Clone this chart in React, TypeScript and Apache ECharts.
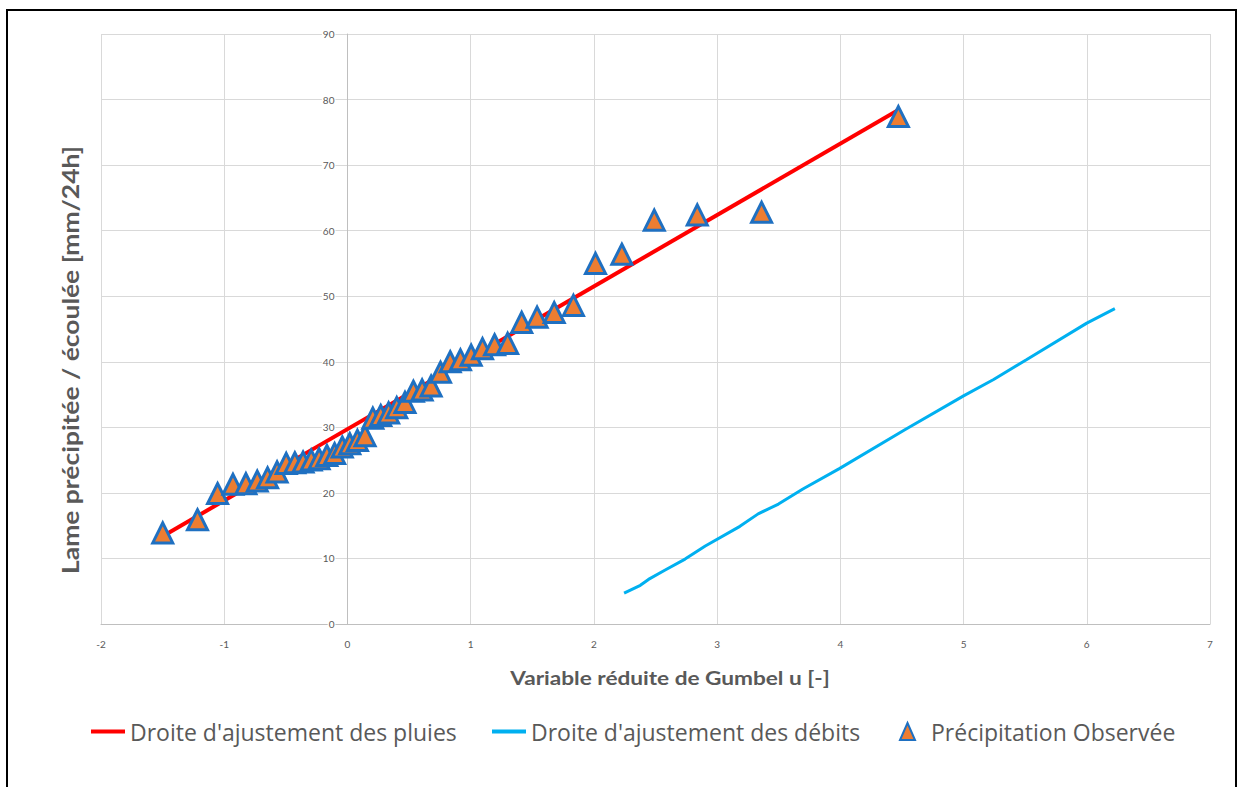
import React, { useEffect, useRef } from "react";
import * as echarts from "echarts";

const seriesNames = [
  "Droite d'ajustement des pluies",
  "Droite d'ajustement des débits",
  "Précipitation Observée",
];
const xAxisTitle = "Variable réduite de Gumbel u [-]";
const yAxisTitle = "Lame précipitée / écoulée [mm/24h]";

const pluieFitU = [-1.499, 4.471];
const pluieFitP = [13.4, 78.4];

const debitFitU = [2.245, 2.377, 2.443, 2.575, 2.74, 2.904, 3.185, 3.333, 3.498, 3.696, 3.992, 4.52, 5.0, 5.244, 5.51, 6.0, 6.228];
const debitFitP = [4.7, 5.9, 6.8, 8.2, 9.9, 11.9, 14.9, 16.8, 18.3, 20.6, 23.7, 29.6, 34.8, 37.3, 40.3, 45.9, 48.1];

const obsU = [
  -1.499, -1.217, -1.054, -0.929, -0.824, -0.732, -0.648, -0.571, -0.497, -0.427,
  -0.36, -0.294, -0.23, -0.167, -0.104, -0.042, 0.019, 0.081, 0.143, 0.206,
  0.27, 0.334, 0.4, 0.467, 0.535, 0.606, 0.679, 0.755, 0.834, 0.917,
  1.004, 1.096, 1.194, 1.3, 1.414, 1.539, 1.678, 1.834, 2.013, 2.227,
  2.49, 2.839, 3.361, 4.471,
];
const obsP = [
  13.9, 15.9, 19.9, 21.3, 21.4, 21.8, 22.3, 23.2, 24.5, 24.6,
  24.7, 25.0, 25.2, 25.7, 26.0, 27.0, 27.5, 28.0, 28.7, 31.4,
  31.8, 32.2, 33.0, 33.8, 35.5, 35.7, 36.3, 38.4, 40.0, 40.3,
  41.0, 42.0, 42.6, 42.8, 46.0, 46.8, 47.5, 48.6, 55.0, 56.4,
  61.6, 62.4, 62.8, 77.4,
];

const FONT = "Open Sans";
const TITLE_FONT = "Lato";
const GREY = "#595959";

const GRID_LEFT = 101;
const GRID_RIGHT = 27;
const WIDTH = 1237;
const X_MIN = -2;
const X_MAX = 7;

export default function App() {
  const ref = useRef<HTMLDivElement>(null);
  useEffect(() => {
    if (!ref.current) return;
    const chart = echarts.init(ref.current, null, { renderer: "svg" });
    const zip = (a: number[], b: number[]) => a.map((v, i) => [v, b[i]]);
    const legendText = { color: GREY, fontSize: 23, fontFamily: FONT };
    const plotW = WIDTH - GRID_LEFT - GRID_RIGHT;
    const yAxisShift = ((0 - X_MIN) / (X_MAX - X_MIN)) * plotW;
    chart.setOption({
      animation: false,
      backgroundColor: "#ffffff",
      textStyle: { fontFamily: FONT },
      grid: { left: GRID_LEFT, right: GRID_RIGHT, top: 34, bottom: 163, containLabel: false, outerBoundsMode: "none" },
      xAxis: {
        type: "value",
        min: X_MIN,
        max: X_MAX,
        interval: 1,
        axisLine: { show: true, onZero: false, lineStyle: { color: "#BFBFBF", width: 1 } },
        axisTick: { show: false },
        axisLabel: { color: GREY, fontSize: 10, margin: 15, fontFamily: TITLE_FONT },
        splitLine: { show: true, lineStyle: { color: "#D9D9D9", width: 1 } },
      },
      yAxis: {
        type: "value",
        min: 0,
        max: 90,
        interval: 10,
        offset: -yAxisShift,
        axisLine: { show: true, onZero: false, lineStyle: { color: "#BFBFBF", width: 1 } },
        axisTick: { show: false },
        axisLabel: {
          color: GREY,
          fontSize: 10,
          margin: 12,
          fontFamily: TITLE_FONT,
          backgroundColor: "#ffffff",
          padding: [0, 1],
        },
        splitLine: { show: true, lineStyle: { color: "#D9D9D9", width: 1 } },
      },
      legend: [
        {
          left: 91, top: 720, itemWidth: 34, itemHeight: 4, itemGap: 0, padding: 0,
          data: [{ name: seriesNames[0], icon: "rect" }], textStyle: legendText,
        },
        {
          left: 492, top: 720, itemWidth: 34, itemHeight: 4, itemGap: 0, padding: 0,
          data: [{ name: seriesNames[1], icon: "rect" }], textStyle: legendText,
        },
        {
          left: 899, top: 720, itemWidth: 15, itemHeight: 17, itemGap: 0, padding: 0,
          data: [{ name: seriesNames[2], icon: "triangle" }],
          textStyle: { ...legendText, padding: [0, 0, 0, 11] },
        },
      ],
      series: [
        {
          name: seriesNames[0],
          type: "line",
          data: zip(pluieFitU, pluieFitP),
          showSymbol: false,
          symbol: "none",
          lineStyle: { color: "#FF0000", width: 4 },
          itemStyle: { color: "#FF0000" },
          z: 2,
        },
        {
          name: seriesNames[1],
          type: "line",
          data: zip(debitFitU, debitFitP),
          showSymbol: false,
          symbol: "none",
          lineStyle: { color: "#00B0F0", width: 3 },
          itemStyle: { color: "#00B0F0" },
          z: 2,
        },
        {
          name: seriesNames[2],
          type: "scatter",
          data: zip(obsU, obsP),
          symbol: "triangle",
          symbolSize: [20, 20],
          itemStyle: { color: "#ED7D31", borderColor: "#1F70C1", borderWidth: 3, opacity: 1 },
          z: 3,
        },
      ],
      graphic: [
        {
          type: "rect",
          shape: { x: 7, y: 10, width: 1229, height: 790 },
          style: { fill: "none", stroke: "#000000", lineWidth: 2 },
          silent: true,
        },
        {
          type: "text",
          x: 670,
          y: 677,
          scaleX: 1.19,
          style: {
            text: xAxisTitle,
            fill: GREY,
            font: `bold 19px ${TITLE_FONT}`,
            align: "center",
            verticalAlign: "middle",
          },
        },
        {
          type: "text",
          x: 70,
          y: 360,
          rotation: Math.PI / 2,
          scaleX: 1.15,
          style: {
            text: yAxisTitle,
            fill: GREY,
            font: `bold 23px ${TITLE_FONT}`,
            align: "center",
            verticalAlign: "middle",
          },
        },
      ],
    });
    return () => chart.dispose();
  }, []);
  return (
    <div
      ref={ref}
      style={{ position: "absolute", left: 0, top: 0, width: WIDTH, height: 787 }}
    />
  );
}
